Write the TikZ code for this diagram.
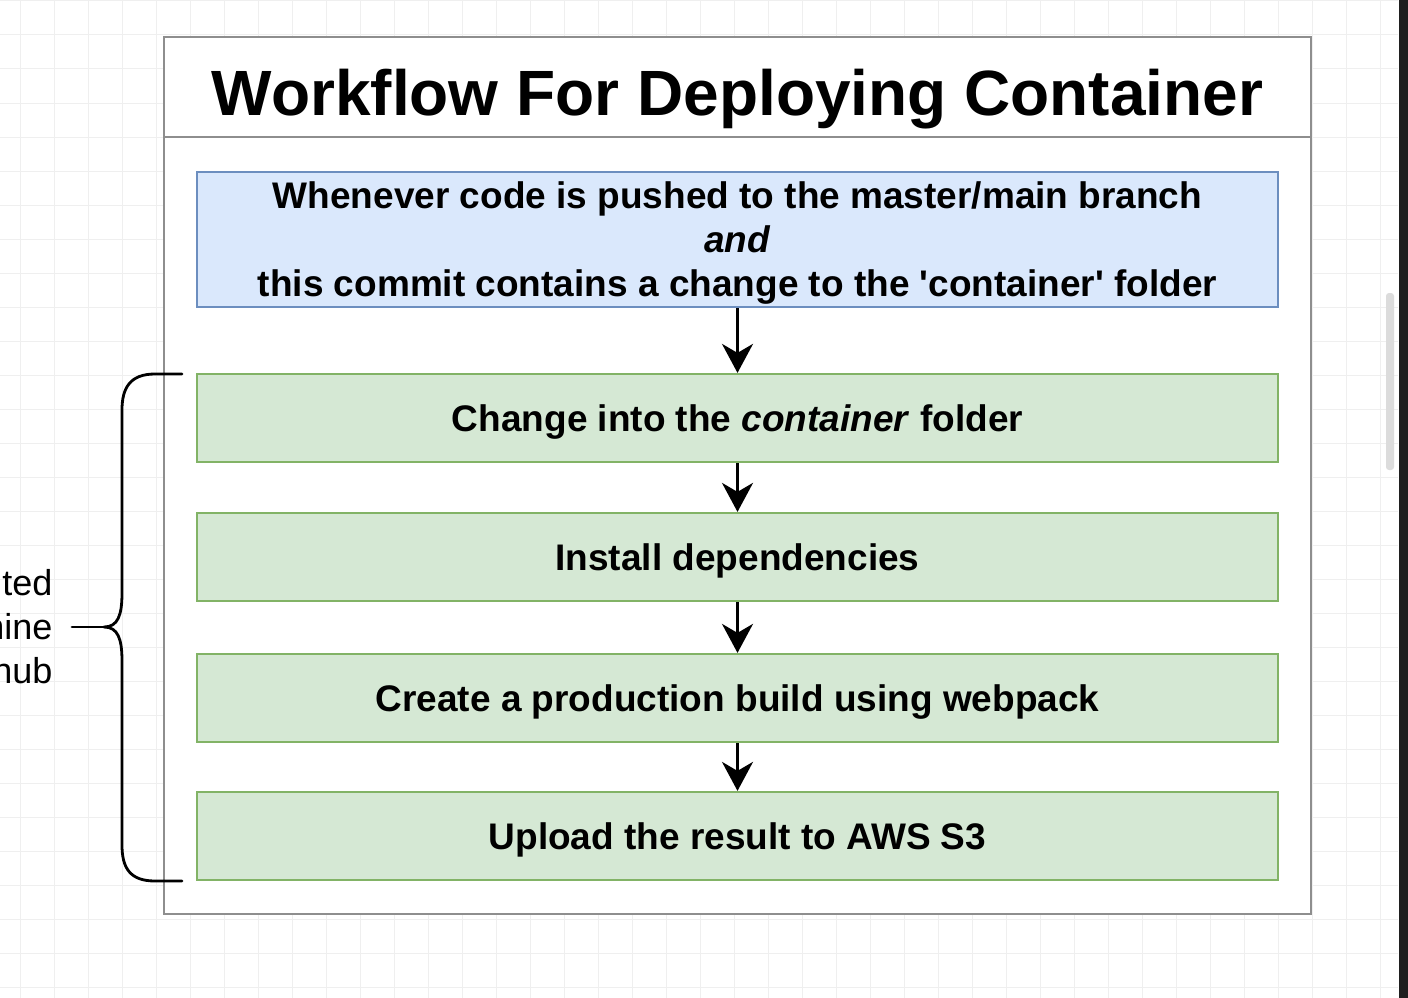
\documentclass[tikz,border=0pt]{standalone}
\usepackage{fontspec}
\setmainfont{Liberation Sans}
\usetikzlibrary{arrows.meta}
\definecolor{bluefill}{HTML}{DAE8FC}
\definecolor{blueline}{HTML}{6C8EBF}
\definecolor{greenfill}{HTML}{D5E8D4}
\definecolor{greenline}{HTML}{82B366}
\definecolor{frameline}{HTML}{8E8E8E}
\definecolor{gridline}{HTML}{EFEFEF}
\definecolor{darkstrip}{HTML}{1F1F1F}
\definecolor{scrollgray}{HTML}{DCDCDC}
\tikzset{
  bodyfont/.style={font=\fontsize{37}{44}\selectfont\bfseries},
  stepbox/.style={draw=greenline, fill=greenfill, line width=2.2pt,
    minimum width=1081pt, minimum height=88pt, inner sep=0pt,
    bodyfont, text height=26.5pt, text depth=0pt},
  triggerbox/.style={draw=blueline, fill=bluefill, line width=2.2pt,
    minimum width=1081pt, minimum height=135pt, inner sep=0pt,
    bodyfont, align=center, text depth=0pt},
  flow/.style={draw=black, line width=2.8pt,
    -{Stealth[length=29pt, width=31pt, inset=9pt]}},
  brace/.style={draw=black, line width=2.8pt, line join=round, line cap=round},
}
\begin{document}
\begin{tikzpicture}[x=1pt, y=-1pt]
\useasboundingbox (0,0) rectangle (1408,998);
\fill[white] (0,0) rectangle (1408,998);
% faint canvas grid
\foreach \gx in {20,54,...,1400} \draw[gridline, line width=1pt] (\gx,0) -- (\gx,998);
\foreach \gy in {1,35,...,998} \draw[gridline, line width=1pt] (0,\gy) -- (1398,\gy);
% right dark strip and scrollbar
\fill[darkstrip] (1399,0) rectangle (1408,998);
\fill[scrollgray, rounded corners=3pt] (1386,293) rectangle (1394,470);
% outer frame
\fill[white] (164,37) rectangle (1311,914);
\draw[frameline, line width=2.6pt] (164,37) rectangle (1311,914);
\draw[frameline, line width=2.6pt] (164,137) -- (1311,137);
\node[font=\fontsize{64}{70}\selectfont\bfseries, anchor=base] (title) at (737.5,115) {Workflow For Deploying Container};
% boxes
\node[triggerbox] (trigger) at (737.5,239.5) {Whenever code is pushed to the master/main branch\\\textit{and}\\this commit contains a change to the \textquotesingle container\textquotesingle\ folder};
\node[stepbox] (change) at (737.5,418) {Change into the \textit{container} folder};
\node[stepbox] (install) at (737.5,557) {Install dependencies};
\node[stepbox] (build) at (737.5,698) {Create a production build using webpack};
\node[stepbox] (upload) at (737.5,836) {Upload the result to AWS S3};
% arrows
\draw[flow] (trigger) -- (change);
\draw[flow] (change) -- (install);
\draw[flow] (install) -- (build);
\draw[flow] (build) -- (upload);
% brace
\coordinate (btop) at (182,374);
\coordinate (bbot) at (182,881);
\coordinate (btip) at (104,627);
\coordinate (bend) at (72,627);
\draw[brace] (btop) -- (155,374) .. controls (130,374) and (122,388) .. (122,410)
  -- (122,593) .. controls (122,615) and (118,627) .. (btip)
  .. controls (118,627) and (122,639) .. (122,661)
  -- (122,845) .. controls (122,868) and (130,881) .. (155,881) -- (bbot);
\draw[brace] (btip) -- (bend);
% cut-off side label (clipped at the left edge, as in the reference)
\begin{scope}
\clip (0,0) rectangle (1408,998);
\node[font=\fontsize{36}{44}\selectfont, align=right, anchor=east] (side) at (56,627) {executed\\machine\\Github};
\end{scope}
\end{tikzpicture}
\end{document}
